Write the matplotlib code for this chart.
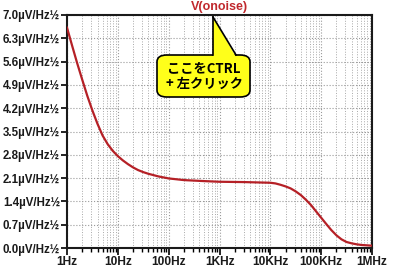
import matplotlib.pyplot as plt
from matplotlib.patches import FancyBboxPatch, Polygon
from matplotlib.lines import Line2D
from matplotlib.ticker import FixedLocator, LogLocator, NullFormatter

# valeurs (Hz, µV/Hz½)
freq = [1, 1.26, 1.58, 2.0, 2.51, 3.16, 3.98, 5.01, 6.31, 7.94,
        10, 12.6, 15.8, 20, 25.1, 31.6, 39.8, 63.1, 100, 200,
        500, 1000, 3160, 10000, 12600, 15800, 20000, 25100, 31600, 39800,
        50100, 63100, 79400, 100000, 126000, 158000, 200000, 251000, 316000, 398000,
        501000, 631000, 794000, 1000000]
bruit = [6.62, 6.08, 5.56, 5.05, 4.57, 4.13, 3.73, 3.38, 3.12, 2.92,
         2.76, 2.63, 2.52, 2.42, 2.34, 2.28, 2.23, 2.15, 2.09, 2.04,
         2.01, 1.99, 1.98, 1.96, 1.94, 1.90, 1.85, 1.79, 1.70, 1.59,
         1.45, 1.29, 1.10, 0.91, 0.72, 0.54, 0.38, 0.26, 0.18, 0.14,
         0.11, 0.09, 0.08, 0.07]

y_ticks = [0.0, 0.7, 1.4, 2.1, 2.8, 3.5, 4.2, 4.9, 5.6, 6.3, 7.0]
y_labels = ['%.1fµV/Hz½' % v for v in y_ticks]
x_ticks = [1, 10, 100, 1e3, 1e4, 1e5, 1e6]
x_labels = ['1Hz', '10Hz', '100Hz', '1KHz', '10KHz', '100KHz', '1MHz']

W, H = 395, 270
fig = plt.figure(figsize=(W / 100, H / 100), dpi=100)
fig.patch.set_facecolor('white')

def fx(x):
    return x / W

def fy(y):
    return 1 - y / H

ax = fig.add_axes([fx(67), fy(248), fx(372) - fx(67), fy(15) - fy(248)])
ax.set_xscale('log')
ax.set_xlim(1, 1e6)
ax.set_ylim(0, 7.0)

ax.plot(freq, bruit, color='#b52026', lw=1.6, zorder=3, solid_joinstyle='round')

ax.xaxis.set_major_locator(FixedLocator(x_ticks))
ax.xaxis.set_minor_locator(LogLocator(base=10, subs=range(2, 10), numticks=20))
ax.xaxis.set_minor_formatter(NullFormatter())
ax.set_xticks(x_ticks)
ax.set_xticklabels(x_labels)
ax.set_yticks(y_ticks)
ax.set_yticklabels(y_labels)

for lab in ax.get_xticklabels() + ax.get_yticklabels():
    lab.set_fontfamily('Liberation Sans')
    lab.set_fontweight('bold')
    lab.set_color('#1a1a1a')
for lab in ax.get_yticklabels():
    lab.set_fontsize(8.3)
for lab in ax.get_xticklabels():
    lab.set_fontsize(8.6)

ax.tick_params(axis='both', which='major', direction='out', length=4, width=1.2, pad=1)
ax.tick_params(axis='x', which='minor', direction='out', length=3, width=1.0)
ax.tick_params(axis='x', which='major', length=5, pad=0.5)

ax.grid(True, which='major', axis='both', color='#9a9a9a', linestyle=':', lw=0.8)
ax.grid(True, which='minor', axis='x', color='#a8a8a8', linestyle=':', lw=0.7)
ax.set_axisbelow(True)

for s in ax.spines.values():
    s.set_linewidth(1.5)
    s.set_color('#1a1a1a')

fig.text(fx(219), fy(7), 'V(onoise)', color='#c0282d', fontsize=9,
         fontweight='bold', family='Liberation Sans', ha='center', va='center')

# bulle jaune
jaune = '#ffff1a'
boite = FancyBboxPatch((fx(157), fy(97)), fx(250) - fx(157), fy(55) - fy(97),
                       boxstyle='round,pad=0,rounding_size=0.025',
                       transform=fig.transFigure, facecolor=jaune,
                       edgecolor='black', lw=1.2, zorder=5)
fig.patches.append(boite)
pointe = [(fx(213), fy(17)), (fx(213), fy(57)), (fx(236), fy(57))]
fig.patches.append(Polygon(pointe, closed=True, transform=fig.transFigure,
                           facecolor=jaune, edgecolor='none', zorder=6))
fig.lines.append(Line2D([fx(213), fx(213)], [fy(55), fy(17)],
                        transform=fig.transFigure, color='black', lw=1.2, zorder=7))
fig.lines.append(Line2D([fx(213), fx(236)], [fy(17), fy(55)],
                        transform=fig.transFigure, color='black', lw=1.2, zorder=7))

fig.text(fx(204), fy(76), 'ここをCTRL\n+ 左クリック', fontsize=9.5, fontweight='bold',
         family=['Noto Sans CJK JP', 'DejaVu Sans'], ha='center', va='center',
         linespacing=1.1, zorder=8)

fig.savefig('out.png', dpi=100)
